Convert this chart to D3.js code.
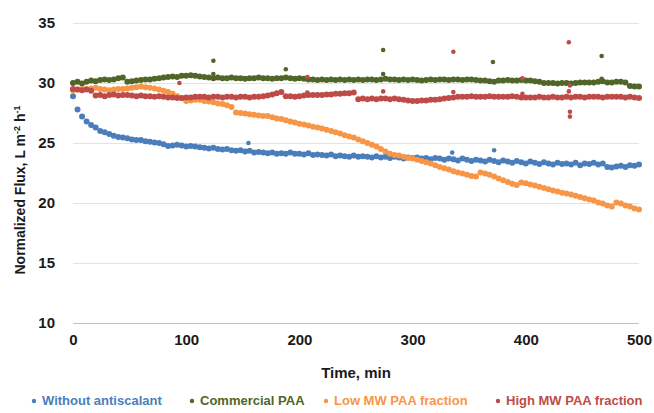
<!DOCTYPE html>
<html>
<head>
<meta charset="utf-8">
<script src="https://cdn.jsdelivr.net/npm/d3@7"></script>
<style>
  body { margin: 0; background: #fff; }
  svg text { font-family: "Liberation Sans", Arial, sans-serif; font-weight: bold; }
</style>
</head>
<body>
<div class="container"></div>
<script>
// series sampled every 4 min, 0..500
const step = 4;
const seriesNames = ["Without antiscalant", "Commercial PAA", "Low MW PAA fraction", "High MW PAA fraction"];
const seriesColors = ["#4a7ebb", "#4f6628", "#f79646", "#be4b48"];

const withoutAnti = [
  28.9, 27.8, 27.2, 26.8, 26.5, 26.3, 26.0, 25.9, 25.75, 25.6,
  25.5, 25.45, 25.4, 25.3, 25.25, 25.25, 25.15, 25.1, 25.05, 25.0,
  24.9, 24.75, 24.8, 24.85, 24.8, 24.7, 24.75, 24.7, 24.65, 24.6,
  24.55, 24.6, 24.5, 24.45, 24.5, 24.4, 24.35, 24.4, 24.3, 24.35,
  24.2, 24.25, 24.2, 24.15, 24.2, 24.1, 24.15, 24.1, 24.2, 24.1,
  24.1, 24.05, 24.15, 24.0, 24.05, 24.0, 23.95, 24.05, 23.9, 23.95,
  23.9, 23.85, 23.95, 23.85, 23.9, 23.85, 23.8, 23.9, 23.8, 23.85,
  23.75, 23.85, 23.8, 23.7, 23.8, 23.75, 23.8, 23.7, 23.75, 23.65,
  23.75, 23.7, 23.6, 23.7, 23.65, 23.55, 23.7, 23.6, 23.5, 23.6,
  23.55, 23.45, 23.6, 23.5, 23.4, 23.55, 23.45, 23.35, 23.5, 23.4,
  23.3, 23.45, 23.35, 23.25, 23.4, 23.3, 23.2, 23.35, 23.25, 23.3,
  23.2, 23.35, 23.15, 23.3, 23.25, 23.35, 23.2, 23.3, 23.0, 22.95,
  23.05, 23.1, 23.0, 23.15, 23.1, 23.2
];
const commercial = [
  30.0, 30.1, 29.95, 30.1, 30.2, 30.15, 30.25, 30.3, 30.25, 30.3,
  30.4, 30.45, 30.1, 30.15, 30.2, 30.25, 30.3, 30.3, 30.35, 30.4,
  30.45, 30.5, 30.55, 30.5, 30.6, 30.6, 30.65, 30.6, 30.55, 30.5,
  30.45, 30.4, 30.45, 30.4, 30.4, 30.45, 30.4, 30.4, 30.35, 30.4,
  30.4, 30.45, 30.4, 30.4, 30.35, 30.4, 30.4, 30.45, 30.4, 30.35,
  30.4, 30.35, 30.3, 30.3, 30.25, 30.3, 30.25, 30.3, 30.25, 30.3,
  30.25, 30.3, 30.25, 30.3, 30.25, 30.3, 30.3, 30.25, 30.3, 30.35,
  30.3, 30.3, 30.25, 30.3, 30.25, 30.3, 30.25, 30.2, 30.25, 30.3,
  30.25, 30.3, 30.3, 30.25, 30.3, 30.3, 30.25, 30.3, 30.3, 30.25,
  30.2, 30.2, 30.15, 30.1, 30.2, 30.2, 30.25, 30.2, 30.2, 30.25,
  30.2, 30.2, 30.15, 30.1, 30.0, 30.0, 30.0, 29.95, 30.0, 30.0,
  29.95, 30.0, 30.05, 30.05, 30.05, 30.05, 30.1, 30.15, 30.05, 30.05,
  30.1, 30.1, 30.05, 29.75, 29.7, 29.7
];
const lowMW = [
  29.4, 29.45, 29.5, 29.5, 29.55, 29.6, 29.5, 29.45, 29.4, 29.45,
  29.5, 29.5, 29.55, 29.6, 29.65, 29.7, 29.65, 29.6, 29.55, 29.45,
  29.35, 29.25, 29.1, 28.9, 28.75, 28.5, 28.55, 28.6, 28.6, 28.5,
  28.45, 28.4, 28.3, 28.25, 28.15, 28.0, 27.55, 27.5, 27.45, 27.4,
  27.35, 27.3, 27.25, 27.25, 27.15, 27.05, 27.0, 26.9, 26.8, 26.7,
  26.6, 26.55, 26.45, 26.35, 26.3, 26.2, 26.1, 26.0, 25.9, 25.8,
  25.65, 25.55, 25.45, 25.3, 25.15, 25.0, 24.85, 24.7, 24.5, 24.3,
  24.1, 24.0, 23.95, 23.85, 23.75, 23.7, 23.6, 23.5, 23.4, 23.3,
  23.15, 23.0, 22.9, 22.8, 22.65, 22.55, 22.45, 22.35, 22.25, 22.2,
  22.55, 22.45, 22.35, 22.2, 22.05, 21.9, 21.75, 21.6, 21.5, 21.7,
  21.65, 21.55, 21.45, 21.35, 21.25, 21.15, 21.05, 20.95, 20.85, 20.8,
  20.7, 20.6, 20.5, 20.4, 20.3, 20.2, 20.05, 19.95, 19.8, 19.7,
  20.05, 19.95, 19.8, 19.7, 19.55, 19.45
];
const highMW = [
  29.5, 29.45, 29.4, 29.45, 29.35, 28.95, 29.0, 28.9, 29.0, 29.05,
  28.95, 29.0, 29.0, 28.95, 28.9, 28.95, 28.9, 28.9, 28.85, 28.9,
  28.85, 28.8, 28.8, 28.75, 28.75, 28.8, 28.8, 28.85, 28.85, 28.85,
  28.8, 28.85, 28.85, 28.8, 28.85, 28.85, 28.8, 28.85, 28.85, 28.8,
  28.85, 28.85, 28.9, 28.95, 29.05, 29.15, 29.25, 28.9, 28.9, 28.85,
  28.9, 28.95, 29.0, 29.0, 29.0, 29.0, 29.05, 29.05, 29.1, 29.1,
  29.15, 29.15, 29.2, 28.65, 28.7, 28.65, 28.7, 28.65, 28.7, 28.7,
  28.65, 28.7, 28.65, 28.6, 28.55, 28.5, 28.5, 28.55, 28.55, 28.6,
  28.6, 28.65, 28.7, 28.75, 28.8, 28.85, 28.85, 28.85, 28.9, 28.85,
  28.85, 28.85, 28.9, 28.85, 28.85, 28.85, 28.85, 28.9, 28.85, 28.8,
  28.8, 28.8, 28.8, 28.85, 28.8, 28.8, 28.85, 28.8, 28.8, 28.85,
  28.8, 28.85, 28.85, 28.8, 28.85, 28.85, 28.85, 28.8, 28.85, 28.85,
  28.85, 28.85, 28.8, 28.85, 28.8, 28.75
];

// stray single readings [time, flux]
const withoutAntiOut = [[155, 25.0], [335, 24.2], [372, 24.4]];
const commercialOut = [[124, 31.85], [124, 30.75], [188, 31.15], [274, 32.75], [274, 30.75], [371, 31.75], [467, 32.25], [467, 30.35]];
const lowMWOut = [];
const highMWOut = [[94, 30.0], [207, 30.5], [207, 29.2], [274, 29.3], [336, 32.6], [336, 29.25], [397, 30.4], [397, 29.1],
                   [438, 33.4], [439, 29.8], [438, 29.3], [439, 27.6], [439, 27.2]];

const yTicks = [10, 15, 20, 25, 30, 35];
const xTicks = [0, 100, 200, 300, 400, 500];

const allSeries = [withoutAnti, commercial, lowMW, highMW];
const allOut = [withoutAntiOut, commercialOut, lowMWOut, highMWOut];
allSeries.forEach((s, i) => { if (s.length !== 126) throw new Error(seriesNames[i] + " has " + s.length); });

const w = 654, h = 413;
const xScale = d3.scaleLinear().domain([0, 500]).range([73, 639]);
const yScale = d3.scaleLinear().domain([10, 35]).range([323, 23]);

const svg = d3.select(".container").append("svg")
  .attr("width", w).attr("height", h);

// gridlines
svg.append("g").selectAll("line")
  .data(yTicks).enter().append("line")
  .attr("x1", xScale(0)).attr("x2", xScale(500))
  .attr("y1", d => yScale(d) + 0.5).attr("y2", d => yScale(d) + 0.5)
  .attr("stroke", d => d === 10 ? "#bfbfbf" : "#e3e3e3")
  .attr("stroke-width", 1);

// y axis labels
const yAxis = d3.axisLeft(yScale).tickValues(yTicks).tickSize(0).tickPadding(0);
const yg = svg.append("g").attr("transform", "translate(55,0)").call(yAxis);
yg.select(".domain").remove();
yg.selectAll("text").attr("font-size", 15).attr("fill", "#1a1a1a")
  .attr("font-family", null);

// x axis labels
const xAxis = d3.axisBottom(xScale).tickValues(xTicks).tickSize(0).tickPadding(0);
const xg = svg.append("g").attr("transform", "translate(0,334)").call(xAxis);
xg.select(".domain").remove();
xg.selectAll("text").attr("font-size", 15).attr("fill", "#1a1a1a")
  .attr("font-family", null);

// axis titles
svg.append("text")
  .attr("x", 356).attr("y", 378)
  .attr("text-anchor", "middle")
  .attr("font-size", 15).attr("fill", "#1a1a1a")
  .text("Time, min");

const yt = svg.append("text")
  .attr("transform", "translate(25,190) rotate(-90)")
  .attr("text-anchor", "middle")
  .attr("font-size", 14).attr("fill", "#1a1a1a");
yt.append("tspan").text("Normalized Flux, L m");
yt.append("tspan").attr("font-size", 9).attr("dy", -5).text("-2");
yt.append("tspan").attr("dy", 5).text(" h");
yt.append("tspan").attr("font-size", 9).attr("dy", -5).text("-1");

// dots
allSeries.forEach((s, i) => {
  const g = svg.append("g").attr("fill", seriesColors[i]);
  g.selectAll("circle.main")
    .data(s).enter().append("circle")
    .attr("cx", (d, j) => xScale(j * step))
    .attr("cy", d => yScale(d))
    .attr("r", 3);
  g.selectAll("circle.out")
    .data(allOut[i]).enter().append("circle")
    .attr("cx", d => xScale(d[0]))
    .attr("cy", d => yScale(d[1]))
    .attr("r", 2.3);
});

// legend
const legendX = [34, 192, 326, 498];
const legend = svg.append("g").attr("transform", "translate(0,405)");
seriesNames.forEach((name, i) => {
  legend.append("circle")
    .attr("cx", legendX[i]).attr("cy", -4).attr("r", 2.2)
    .attr("fill", seriesColors[i]);
  legend.append("text")
    .attr("x", legendX[i] + 8).attr("y", 0)
    .attr("font-size", 13).attr("fill", seriesColors[i])
    .text(name);
});
</script>
</body>
</html>
